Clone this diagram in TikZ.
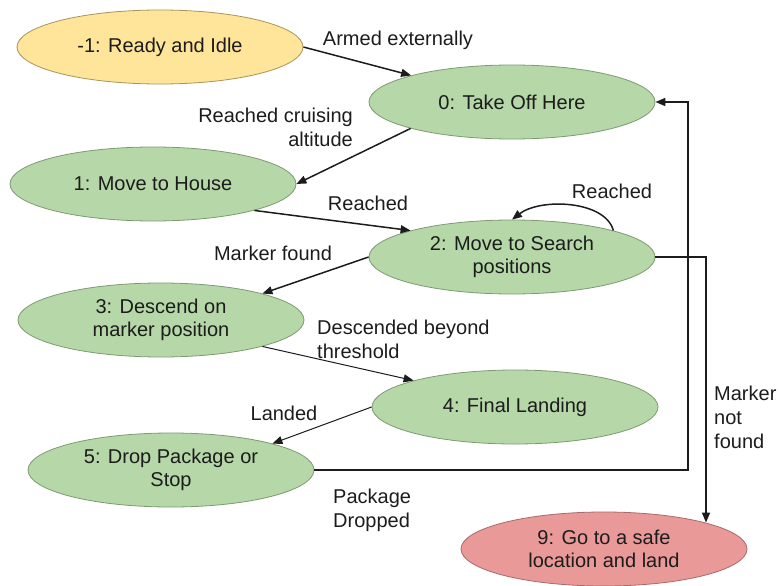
\documentclass[tikz,border=0pt]{standalone}
\usepackage{fontspec}
\setmainfont{Liberation Sans}
\usetikzlibrary{shapes.geometric,arrows.meta}

\definecolor{stYellow}{HTML}{FFE599}
\definecolor{stYellowLine}{HTML}{A8935A}
\definecolor{stGreen}{HTML}{B6D7A8}
\definecolor{stGreenLine}{HTML}{7E9A72}
\definecolor{stRed}{HTML}{EA9999}
\definecolor{stRedLine}{HTML}{A86A6A}
\definecolor{ink}{HTML}{1C1C1C}

\tikzset{
  state/.style={ellipse, minimum width=286pt, minimum height=74pt, inner sep=0pt,
    align=center, text=ink, line width=0.8pt,
    font=\fontsize{20}{23}\selectfont},
  idle/.style={state, fill=stYellow, draw=stYellowLine},
  active/.style={state, fill=stGreen, draw=stGreenLine},
  fail/.style={state, fill=stRed, draw=stRedLine},
  trans/.style={draw=ink, line width=1.5pt, -{Triangle[length=10pt,width=8pt]}},
  thin trans/.style={trans, line width=1pt},
  lbl/.style={text=ink, inner sep=0pt, font=\fontsize{20}{24}\selectfont},
}

\begin{document}
\begin{tikzpicture}[x=1pt, y=-1pt]
\useasboundingbox (0,0) rectangle (779,586);

% states
\node[idle]   (m1) at (160,47)  {-1: Ready and Idle};
\node[active] (s0) at (512,102) {0: Take Off Here};
\node[active] (s1) at (153,184) {1: Move to House};
\node[active] (s2) at (512,257) {2: Move to Search\\positions};
\node[active] (s3) at (161,320) {3: Descend on\\marker position};
\node[active] (s4) at (515,407) {4: Final Landing};
\node[active] (s5) at (171,470) {5: Drop Package or\\Stop};
\node[fail]   (s9) at (604,549) {9: Go to a safe\\location and land};

% bends of the routed connectors
\coordinate (backup) at (688,470);
\coordinate (lost)   at (706,257);

% transitions
\draw[trans] (m1.east) -- (s0);
\draw[trans] (s0.south west) -- (s1.east);
\draw[trans] (s1.south east) -- (s2.north west);
\draw[trans] (s2.north east) .. controls (605,200) and (540,198) .. (s2.north);
\draw[trans] (s2.west) -- (s3.north east);
\draw[thin trans] (s3.south east) -- (s4.north west);
\draw[thin trans] (s4.west) -- (s5.north east);
\draw[trans] (s5.east) -- (backup) |- (s0.east);
\draw[trans] (s2.east) -- (lost) -- (lost |- s9.north east);

% transition labels
\node[lbl] (l1) at (398,40) {Armed externally};
\node[lbl, align=right, anchor=east] (l2) at (353,127) {Reached cruising\\altitude};
\node[lbl] (l3) at (368,203) {Reached};
\node[lbl] (l4) at (612,191) {Reached};
\node[lbl] (l5) at (273,253) {Marker found};
\node[lbl, align=left, anchor=west] (l6) at (317,339) {Descended beyond\\threshold};
\node[lbl] (l7) at (284,413) {Landed};
\node[lbl, align=left, anchor=west] (l8) at (333,510) {Package\\Dropped};
\node[lbl, align=left, anchor=west] (l9) at (714,417) {Marker\\not\\found};
\end{tikzpicture}
\end{document}
